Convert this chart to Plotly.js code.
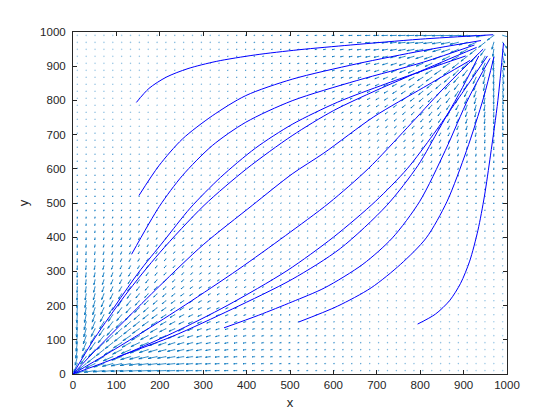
<!DOCTYPE html>
<html><head><meta charset="utf-8">
<script src="https://cdn.plot.ly/plotly-3.0.1.min.js"></script>
<style>html,body{margin:0;padding:0;background:#fff}#chart{width:560px;height:420px}</style>
</head><body><div id="chart"></div>
<script>
// ---- Streamlines ----
const streamA_x = [146,175,215,265,330,420,520,640,800,968];
const streamA_y = [794,835,868,893,914,933,948,962,979,992];
const streamB_x = [152,198,252,321,398,505,654,808,940];
const streamB_y = [522,609,687,755,814,862,907,946,975];
const streamC_x = [135,199,252,321,398,505,654,808,925];
const streamC_y = [350,490,580,668,736,799,858,912,962];
const streamD_x = [90,150,210,270,340,420,505,610,720,820,905];
const streamD_y = [186,295,390,485,575,660,730,795,848,893,930];
const streamE_x = [0,50,120,200,302,400,505,600,700,800,930];
const streamE_y = [0,105,230,355,493,600,697,770,830,885,955];
const streamF_x = [0,60,120,200,300,413,505,578,693,808,915];
const streamF_y = [0,80,157,258,378,493,585,646,752,838,917];
const streamG_x = [0,80,160,260,380,490,590,680,770,850,917,945];
const streamG_y = [0,60,122,203,305,405,500,600,720,830,915,950];
const streamH_x = [0,105,230,355,493,600,697,770,830,885,955];
const streamH_y = [0,50,120,200,302,400,505,600,700,800,930];
const streamI_x = [102,229,367,505,616,723,795,845,890,935];
const streamI_y = [50,110,190,277,367,493,610,720,820,930];
const streamJ_x = [348,428,505,580,668,736,799,858,912,961];
const streamJ_y = [135,172,211,252,321,398,505,654,808,923];
const streamK_x = [520,609,687,755,814,862,907,946,970];
const streamK_y = [152,198,252,321,398,505,654,808,927];
const streamL_x = [794,835,868,893,914,933,948,962,979,992];
const streamL_y = [146,175,215,265,330,420,520,640,800,968];

// ---- Quiver grid and vector field (sink at origin, source near top-right) ----
const gridX = [10,30.4,50.8,71.3,91.7,112.1,132.5,152.9,173.3,193.8,214.2,234.6,255,275.4,295.8,316.3,336.7,357.1,377.5,397.9,418.3,438.8,459.2,479.6,500,520.4,540.8,561.3,581.7,602.1,622.5,642.9,663.3,683.8,704.2,724.6,745,765.4,785.8,806.3,826.7,847.1,867.5,887.9,908.3,928.8,949.2,969.6,990];
const gridY = gridX.slice();
const sinkXY = [0, 0];
const sourceXY = [975, 995];
const strengths = [1.0, 0.8];     // sink, source
const decayRadius = [300, 290];

const tickVals = [0,100,200,300,400,500,600,700,800,900,1000];
const tickText = ['0','100','200','300','400','500','600','700','800','900','1000'];

function falloff(r, R){ return 1/(1+Math.pow(r/R,4)); }

const bx=[], by=[], U=[], V=[];
for (const y of gridY) for (const x of gridX) {
  let u=0, v=0;
  let dx = x-sinkXY[0], dy = y-sinkXY[1], r = Math.hypot(dx,dy);
  if (r>0){ const f = strengths[0]*falloff(r,decayRadius[0]); u -= f*dx/r; v -= f*dy/r; }
  dx = x-sourceXY[0]; dy = y-sourceXY[1]; r = Math.hypot(dx,dy);
  if (r>0){ const f = strengths[1]*falloff(r,decayRadius[1]); u += f*dx/r; v += f*dy/r; }
  bx.push(x); by.push(y); U.push(u); V.push(v);
}
// MATLAB-like autoscale
const n = Math.sqrt(bx.length);
const delx = (Math.max(...gridX)-Math.min(...gridX))/n, dely = (Math.max(...gridY)-Math.min(...gridY))/n;
const del = delx*delx+dely*dely;
let maxlen = 0;
for (let i=0;i<U.length;i++) maxlen = Math.max(maxlen, Math.sqrt((U[i]*U[i]+V[i]*V[i])/del));
const sc = 0.9/maxlen;
const qx=[], qy=[];
const alpha=0.33, beta=0.23;
for (let i=0;i<U.length;i++){
  const x=bx[i], y=by[i], u=U[i]*sc, v=V[i]*sc;
  qx.push(x, x+u, null); qy.push(y, y+v, null);
  qx.push(x+u-alpha*(u+beta*v), x+u, x+u-alpha*(u-beta*v), null);
  qy.push(y+v-alpha*(v-beta*u), y+v, y+v-alpha*(v+beta*u), null);
}

const traces = [
  {x:qx, y:qy, type:'scatter', mode:'lines', line:{color:'#0072BD', width:0.8}, hoverinfo:'skip', showlegend:false},
  {x:bx, y:by, type:'scatter', mode:'markers', marker:{color:'rgba(0,114,189,0.35)', size:1.6}, hoverinfo:'skip', showlegend:false}
];
const streams = [[streamA_x,streamA_y],[streamB_x,streamB_y],[streamC_x,streamC_y],[streamD_x,streamD_y],
  [streamE_x,streamE_y],[streamF_x,streamF_y],[streamG_x,streamG_y],[streamH_x,streamH_y],
  [streamI_x,streamI_y],[streamJ_x,streamJ_y],[streamK_x,streamK_y],[streamL_x,streamL_y]];
for (const [sx,sy] of streams) traces.push({x:sx, y:sy, type:'scatter', mode:'lines',
  line:{color:'#0000FF', width:1, shape:'spline', smoothing:0.8}, hoverinfo:'skip', showlegend:false});

const axisCommon = {range:[0,1000], tickvals:tickVals, ticktext:tickText, ticks:'inside', ticklen:4,
  tickcolor:'#262626', showline:true, linecolor:'#262626', linewidth:1, mirror:'allticks',
  showgrid:false, zeroline:false, tickfont:{family:'Liberation Sans, Arial, sans-serif', size:11.5, color:'#262626'}};
const layout = {
  width:560, height:420, paper_bgcolor:'#fff', plot_bgcolor:'#fff',
  margin:{l:73, r:53, t:32, b:46},
  xaxis:Object.assign({}, axisCommon, {title:{text:'x', font:{family:'Liberation Sans, Arial, sans-serif', size:13, color:'#262626'}, standoff:8}}),
  yaxis:Object.assign({}, axisCommon, {ticklabelstandoff:4, title:{text:'y', font:{family:'Liberation Sans, Arial, sans-serif', size:13, color:'#262626'}, standoff:8}}),
  showlegend:false
};
Plotly.newPlot('chart', traces, layout, {staticPlot:true, displayModeBar:false});
</script></body></html>
